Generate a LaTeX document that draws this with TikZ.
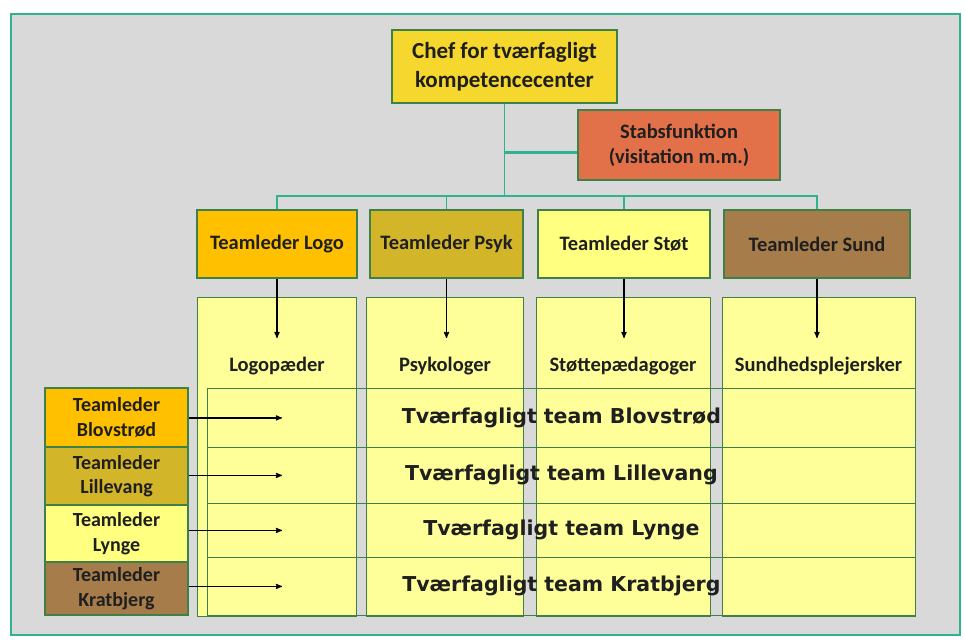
\documentclass[tikz,border=0pt]{standalone}
\usepackage{fontspec}
\setmainfont{Carlito}
\newfontfamily\rowfont{DejaVu Sans}
\usepackage{xcolor}
\definecolor{colorBack}{HTML}{D9D9D9}
\definecolor{colorLine}{HTML}{2EB38E}
\definecolor{colorBorder}{HTML}{3F7F4A}
\definecolor{colorChef}{HTML}{F5D72E}
\definecolor{colorStab}{HTML}{E2714A}
\definecolor{colorLogo}{HTML}{FFC000}
\definecolor{colorPsyk}{HTML}{D3B52A}
\definecolor{colorStoet}{HTML}{FFFF80}
\definecolor{colorSund}{HTML}{A67C4B}
\definecolor{colorCell}{HTML}{FFFF99}
\usetikzlibrary{arrows, positioning}

\begin{document}
\begin{tikzpicture}[>=stealth', thick, x=1pt, y=-1pt,
  every node/.style={text=black!88},
  box/.style={draw=colorBorder, line width=1.2pt, align=center, inner sep=0pt, font=\bfseries\fontsize{20.5}{25}\selectfont},
  leader/.style={box, minimum height=68},
  side/.style={box, minimum width=143, font=\bfseries\fontsize{20}{24.5}\selectfont},
  column/.style={draw=colorBorder, fill=colorCell, line width=0.8pt, minimum width=#1, minimum height=319, anchor=north, inner sep=0pt},
  team/.style={draw=colorBorder, line width=0.8pt, minimum width=708, minimum height=#1, anchor=north west, inner sep=0pt, font=\rowfont\bfseries\fontsize{20.5}{24}\selectfont},
  label/.style={font=\bfseries\fontsize{20.5}{24}\selectfont},
  link/.style={draw=colorLine, line width=1.4pt}]
\useasboundingbox (0,0) rectangle (965,639);
\draw[colorLine, fill=colorBack, line width=1.5pt] (11,14) rectangle (960,635);

% top of the chart
\node[box, fill=colorChef, minimum width=225, minimum height=73, font=\bfseries\fontsize{23}{29}\selectfont] (chef) at (504.5,66.5) {Chef for tværfagligt\\kompetencecenter};
\node[box, fill=colorStab, minimum width=202, minimum height=70] (stabs) at (679,145) {Stabsfunktion\\(visitation m.m.)};
\node[leader, fill=colorLogo, minimum width=160] (tlLogo) at (277,244) {Teamleder Logo};
\node[leader, fill=colorPsyk, minimum width=153] (tlPsyk) at (446.5,244) {Teamleder Psyk};
\node[leader, fill=colorStoet, minimum width=172] (tlStoet) at (624,244) {Teamleder Støt};
\node[leader, fill=colorSund, minimum width=186] (tlSund) at (817,244) {Teamleder Sund};
\coordinate (bus) at (505,196);
\coordinate (stabJoin) at (505,153);
\draw[link] (chef.south) -- (chef.south |- bus);
\draw[link, line width=3pt] (stabJoin) -- (stabJoin -| stabs.west);
\draw[link] (tlLogo.north) -- (tlLogo.north |- bus) -- (tlSund.north |- bus) -- (tlSund.north);
\foreach \t in {tlPsyk, tlStoet}
  \draw[link] (\t.north) -- (\t.north |- bus);

% professions
\node[column=159] (colLogo) at (277,297) {};
\node[column=157] (colPsyk) at (445,297) {};
\node[column=174] (colStoet) at (623,297) {};
\node[column=193] (colSund) at (818.5,297) {};
\node[label] (lblLogo) at (277,366) {Logopæder};
\node[label] (lblPsyk) at (445,366) {Psykologer};
\node[label] (lblStoet) at (623,366) {Støttepædagoger};
\node[label] (lblSund) at (818.5,366) {Sundhedsplejersker};
\coordinate (tipY) at (0,338);
\foreach \t in {tlLogo, tlPsyk, tlStoet, tlSund}
  \draw[->, line width=1.2pt, black] (\t.south) -- (\t.south |- tipY);

% cross-professional teams
\node[team=59] (rowBlov) at (207,388) {Tværfagligt team Blovstrød};
\node[team=56] (rowLille) at (207,447) {Tværfagligt team Lillevang};
\node[team=54] (rowLynge) at (207,503) {Tværfagligt team Lynge};
\node[team=58] (rowKrat) at (207,557) {Tværfagligt team Kratbjerg};
\node[side, fill=colorLogo, minimum height=59] (lbBlov) at (116.5,417.5) {Teamleder\\Blovstrød};
\node[side, fill=colorPsyk, minimum height=58] (lbLille) at (116.5,476) {Teamleder\\Lillevang};
\node[side, fill=colorStoet, minimum height=57] (lbLynge) at (116.5,533.5) {Teamleder\\Lynge};
\node[side, fill=colorSund, minimum height=53] (lbKrat) at (116.5,588.5) {Teamleder\\Kratbjerg};
\coordinate (tipX) at (282,0);
\draw[->, line width=1.2pt, black] (lbBlov.east |- rowBlov) -- (tipX |- rowBlov);
\draw[->, line width=1.2pt, black] (lbLille.east |- rowLille) -- (tipX |- rowLille);
\draw[->, line width=1.2pt, black] (lbLynge.east |- rowLynge) -- (tipX |- rowLynge);
\draw[->, line width=1.2pt, black] (lbKrat.east |- rowKrat) -- (tipX |- rowKrat);
\end{tikzpicture}
\end{document}
